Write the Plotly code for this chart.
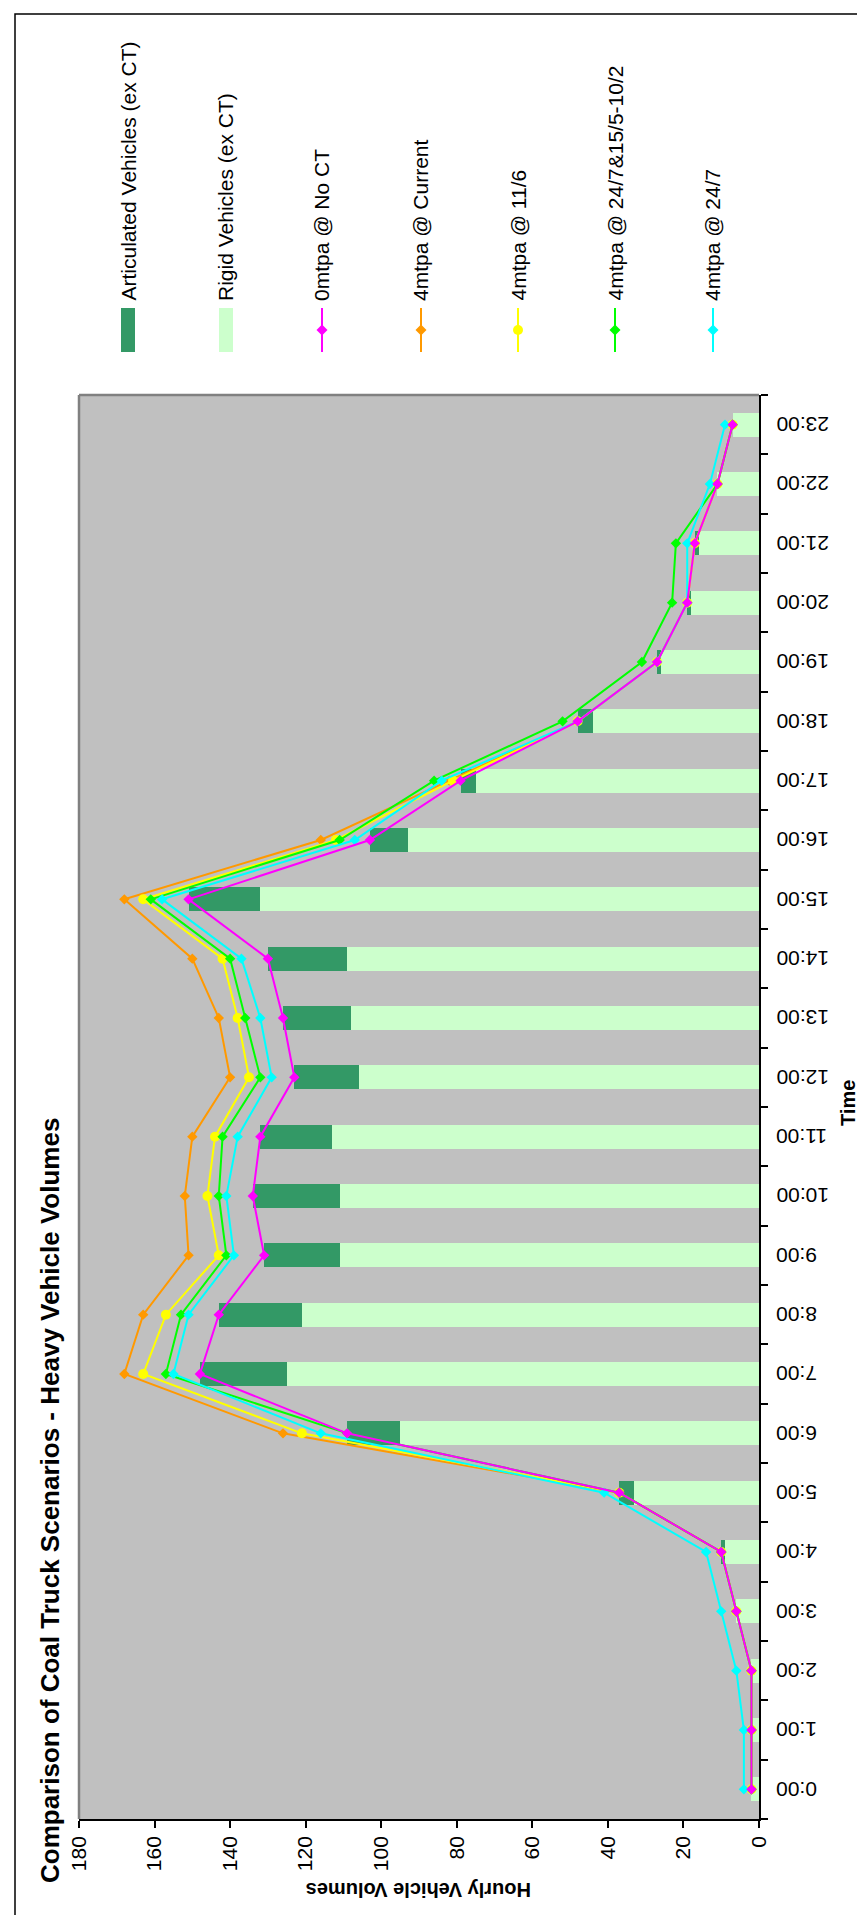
import plotly.graph_objects as go

# ---------------- data ----------------
hours = ["0:00", "1:00", "2:00", "3:00", "4:00", "5:00", "6:00", "7:00", "8:00", "9:00",
         "10:00", "11:00", "12:00", "13:00", "14:00", "15:00", "16:00", "17:00", "18:00",
         "19:00", "20:00", "21:00", "22:00", "23:00"]

rigid = [2, 2, 2, 6, 9, 33, 95, 125, 121, 111, 111, 113, 106, 108, 109, 132, 93, 75, 44, 26, 18, 16, 11, 7]
articulated = [0, 0, 0, 0, 1, 4, 14, 23, 22, 20, 23, 19, 17, 18, 21, 19, 10, 4, 4, 1, 1, 1, 0, 0]

no_ct = [2, 2, 2, 6, 10, 37, 109, 148, 143, 131, 134, 132, 123, 126, 130, 151, 103, 79, 48, 27, 19, 17, 11, 7]
current = [2, 2, 2, 6, 10, 37, 126, 168, 163, 151, 152, 150, 140, 143, 150, 168, 116, 82, 48, 27, 19, 17, 11, 7]
s_11_6 = [2, 2, 2, 6, 10, 37, 121, 163, 157, 143, 146, 144, 135, 138, 142, 163, 112, 81, 48, 27, 19, 17, 11, 7]
s_mixed = [2, 2, 2, 6, 10, 37, 109, 157, 153, 141, 143, 142, 132, 136, 140, 161, 111, 86, 52, 31, 23, 22, 11, 7]
s_24_7 = [4, 4, 6, 10, 14, 41, 116, 155, 151, 139, 141, 138, 129, 132, 137, 158, 107, 84, 48, 27, 19, 19, 13, 9]

value_ticks = [0, 20, 40, 60, 80, 100, 120, 140, 160, 180]

legend_names = ["Articulated Vehicles (ex CT)", "Rigid Vehicles (ex CT)", "0mtpa @ No CT",
                "4mtpa @ Current", "4mtpa @ 11/6", "4mtpa @ 24/7&15/5-10/2", "4mtpa @ 24/7"]

title_text = "Comparison of Coal Truck Scenarios - Heavy Vehicle Volumes"
value_title = "Hourly Vehicle Volumes"
cat_title = "Time"

# ---------------- styling / layout ----------------
FONT = "Arial, 'Liberation Sans', sans-serif"
W, H = 865, 1915
PL, PR, PT, PB = 71, 751, 387, 1811  # plot area in pixels


def px_x(x):
    return (x - PL) / (PR - PL)


def px_y(y):
    return (PB - y) / (PB - PT)


C_ART = "#339966"
C_RIG = "#CCFFCC"
C_MAG = "#FF00FF"
C_ORA = "#FF9900"
C_YEL = "#FFFF00"
C_GRN = "#00FF00"
C_CYA = "#00FFFF"

fig = go.Figure()

fig.add_trace(go.Bar(y=hours, x=rigid, orientation="h", marker=dict(color=C_RIG, line=dict(width=0)),
                     name=legend_names[1], showlegend=False))
fig.add_trace(go.Bar(y=hours, x=articulated, orientation="h", marker=dict(color=C_ART, line=dict(width=0)),
                     name=legend_names[0], showlegend=False))

series = [
    (current, C_ORA, "diamond", 8, legend_names[3]),
    (s_11_6, C_YEL, "circle", 10, legend_names[4]),
    (s_mixed, C_GRN, "diamond", 8, legend_names[5]),
    (s_24_7, C_CYA, "diamond", 8, legend_names[6]),
    (no_ct, C_MAG, "diamond", 8, legend_names[2]),
]
for vals, col, sym, sz, nm in series:
    fig.add_trace(go.Scatter(y=hours, x=vals, mode="lines+markers", name=nm, showlegend=False,
                             line=dict(color=col, width=2),
                             marker=dict(symbol=sym, size=sz, color=col, line=dict(width=0))))

shapes = []
annotations = []

# outer border
shapes.append(dict(type="rect", xref="paper", yref="paper",
                   x0=px_x(7), x1=px_x(859), y0=px_y(1913), y1=px_y(6),
                   line=dict(color="black", width=1.5), fillcolor="rgba(0,0,0,0)", layer="below"))
# gray plot-area border (left and top)
shapes.append(dict(type="line", xref="paper", yref="paper", x0=0, x1=0, y0=0, y1=1,
                   line=dict(color="#808080", width=2.5)))
shapes.append(dict(type="line", xref="paper", yref="paper", x0=0, x1=1, y0=1, y1=1,
                   line=dict(color="#808080", width=2.5)))

# legend
leg_x = [120, 218, 314, 413, 510, 607, 705]
sym_top, sym_bot, sym_mid = 300, 344, 322
leg_fill = [C_ART, C_RIG]
for i in range(2):
    shapes.append(dict(type="rect", xref="paper", yref="paper",
                       x0=px_x(leg_x[i] - 7), x1=px_x(leg_x[i] + 7),
                       y0=px_y(sym_bot), y1=px_y(sym_top),
                       fillcolor=leg_fill[i], line=dict(width=0)))
line_cols = [C_MAG, C_ORA, C_YEL, C_GRN, C_CYA]
line_syms = ["diamond", "diamond", "circle", "diamond", "diamond"]
for j, (col, sym) in enumerate(zip(line_cols, line_syms)):
    cx = leg_x[j + 2]
    shapes.append(dict(type="line", xref="paper", yref="paper",
                       x0=px_x(cx), x1=px_x(cx), y0=px_y(sym_bot), y1=px_y(sym_top),
                       line=dict(color=col, width=2)))
    if sym == "diamond":
        r = 5.5
        path = (f"M {px_x(cx)} {px_y(sym_mid - r)} L {px_x(cx + r)} {px_y(sym_mid)} "
                f"L {px_x(cx)} {px_y(sym_mid + r)} L {px_x(cx - r)} {px_y(sym_mid)} Z")
        shapes.append(dict(type="path", xref="paper", yref="paper", path=path,
                           fillcolor=col, line=dict(width=0)))
    else:
        r = 5
        shapes.append(dict(type="circle", xref="paper", yref="paper",
                           x0=px_x(cx - r), x1=px_x(cx + r), y0=px_y(sym_mid + r), y1=px_y(sym_mid - r),
                           fillcolor=col, line=dict(width=0)))

for name, cx in zip(legend_names, leg_x):
    annotations.append(dict(text=name, xref="paper", yref="paper", x=px_x(cx), y=px_y(295),
                            xanchor="center", yanchor="bottom", textangle=-90, showarrow=False,
                            font=dict(family=FONT, size=21, color="black")))

# category (time) labels, upside down, right of the axis
for h in hours:
    annotations.append(dict(text=h, xref="paper", yref="y", x=1, y=h, xshift=15,
                            xanchor="left", yanchor="middle", textangle=180, showarrow=False,
                            font=dict(family=FONT, size=21, color="black")))

# titles
annotations.append(dict(text=f"<b>{title_text}</b>", xref="paper", yref="paper",
                        x=px_x(42), y=px_y(1493), xanchor="center", yanchor="middle",
                        textangle=-90, showarrow=False, font=dict(family=FONT, size=26, color="black")))
annotations.append(dict(text=f"<b>{cat_title}</b>", xref="paper", yref="paper",
                        x=px_x(840), y=px_y(1095), xanchor="center", yanchor="middle",
                        textangle=-90, showarrow=False, font=dict(family=FONT, size=20, color="black")))
annotations.append(dict(text=f"<b>{value_title}</b>", xref="paper", yref="paper",
                        x=px_x(411), y=px_y(1882), xanchor="center", yanchor="middle",
                        textangle=180, showarrow=False, font=dict(family=FONT, size=20, color="black")))

fig.update_layout(
    width=W, height=H,
    margin=dict(l=PL, r=W - PR, t=PT, b=H - PB, pad=0),
    paper_bgcolor="white", plot_bgcolor="#C0C0C0",
    barmode="stack", bargap=0.6,
    showlegend=False,
    font=dict(family=FONT, color="black"),
    shapes=shapes, annotations=annotations,
    xaxis=dict(range=[180, 0], tickmode="array", tickvals=value_ticks,
               ticktext=[str(v) for v in value_ticks],
               showgrid=False, zeroline=False, showline=True, linecolor="black", linewidth=1.5,
               ticks="outside", ticklen=7, tickcolor="black", tickwidth=1.5, tickangle=-90,
               tickfont=dict(family=FONT, size=21, color="black")),
    yaxis=dict(type="category", categoryorder="array", categoryarray=hours,
               range=[-0.5, 23.5], side="right", showgrid=False, zeroline=False,
               showline=True, linecolor="black", linewidth=1.5,
               ticks="outside", ticklen=7, tickcolor="black", tickwidth=1.5,
               tickson="boundaries", showticklabels=False),
)

fig.write_html("out.html")
